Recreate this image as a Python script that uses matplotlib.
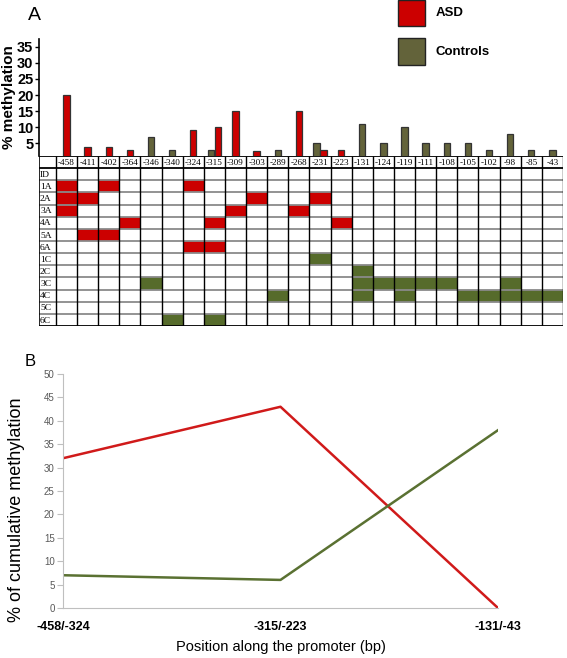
import numpy as np
import matplotlib
matplotlib.use("Agg")
import matplotlib.pyplot as plt
from matplotlib.patches import Rectangle

plt.rcParams['font.family'] = ['Liberation Sans', 'DejaVu Sans']

# CpG positions along the promoter
positions = ['-458', '-411', '-402', '-364', '-346', '-340', '-324', '-315', '-309', '-303',
             '-289', '-268', '-231', '-223', '-131', '-124', '-119', '-111', '-108', '-105',
             '-102', '-98', '-85', '-43']

# % methylation per CpG (0 = no bar)
asd_pct = [20, 4, 4, 3, 0, 0, 9, 10, 15, 2.5, 0, 15, 3, 3, 0, 0, 0, 0, 0, 0, 0, 0, 0, 0]
ctrl_pct = [0, 0, 0, 0, 7, 3, 0, 3, 0, 0, 3, 0, 5, 0, 11, 5, 10, 5, 5, 5, 3, 8, 3, 3]

# subjects and their methylated CpGs
subjects = ['1A', '2A', '3A', '4A', '5A', '6A', '1C', '2C', '3C', '4C', '5C', '6C']
methylated = {
    '1A': ['-458', '-402', '-324'],
    '2A': ['-458', '-411', '-303', '-231'],
    '3A': ['-458', '-309', '-268'],
    '4A': ['-364', '-315', '-223'],
    '5A': ['-411', '-402'],
    '6A': ['-324', '-315'],
    '1C': ['-231'],
    '2C': ['-131'],
    '3C': ['-346', '-131', '-124', '-119', '-111', '-108', '-98'],
    '4C': ['-289', '-131', '-119', '-105', '-102', '-98', '-85', '-43'],
    '5C': [],
    '6C': ['-340', '-315'],
}

# panel B: cumulative methylation by region
regions = ['-458/-324', '-315/-223', '-131/-43']
asd_cum = [32, 43, 0]
ctrl_cum = [7, 6, 38]

RED = '#cc0000'
GREEN_BAR = '#63633a'
GREEN_CELL = '#566b2b'

W, H = 567, 658
fig = plt.figure(figsize=(W / 100, H / 100), dpi=100)


def box(x0, y0, x1, y1):
    # pixel box -> figure fraction [left, bottom, width, height]
    return [x0 / W, 1 - y1 / H, (x1 - x0) / W, (y1 - y0) / H]


ncol = len(positions)
lab_w = 0.8  # row label column width in column units

# ---- panel A bars ----
axb = fig.add_axes(box(39, 39, 563, 156))
for i in range(ncol):
    a, c = asd_pct[i], ctrl_pct[i]
    if a and c:
        axb.bar(i + 0.5 - 0.16, c, 0.3, color=GREEN_BAR, edgecolor='#333333', lw=0.9)
        axb.bar(i + 0.5 + 0.16, a, 0.3, color=RED, edgecolor='#333333', lw=0.9)
    elif a:
        axb.bar(i + 0.5, a, 0.3, color=RED, edgecolor='#333333', lw=0.9)
    elif c:
        axb.bar(i + 0.5, c, 0.3, color=GREEN_BAR, edgecolor='#333333', lw=0.9)
axb.set_xlim(-lab_w, ncol)
axb.set_ylim(1.05, 37.4)
axb.set_yticks([5, 10, 15, 20, 25, 30, 35])
axb.tick_params(axis='y', labelsize=10.5, length=3, width=1, pad=1)
for t in axb.get_yticklabels():
    t.set_fontweight('bold')
axb.set_xticks([])
for s in ['top', 'right', 'bottom']:
    axb.spines[s].set_visible(False)
axb.spines['left'].set_linewidth(1.2)
axb.set_ylabel('% methylation', fontsize=11, fontweight='bold', labelpad=1)
axb.patch.set_alpha(0)

fig.text(28 / W, 1 - 15 / H, 'A', fontsize=14, va='center', ha='left')

# legend
fig.patches.append(Rectangle((398 / W, 1 - 26 / H), 27 / W, 26 / H, transform=fig.transFigure,
                             facecolor=RED, edgecolor='#222222', lw=1))
fig.patches.append(Rectangle((398 / W, 1 - 65 / H), 27 / W, 27 / H, transform=fig.transFigure,
                             facecolor=GREEN_BAR, edgecolor='#222222', lw=1))
fig.text(436 / W, 1 - 13 / H, 'ASD', fontsize=9.5, fontweight='bold', va='center')
fig.text(436 / W, 1 - 52 / H, 'Controls', fontsize=9.5, fontweight='bold', va='center')

# ---- table ----
axt = fig.add_axes(box(39, 156, 563, 326))
rows = ['', 'ID'] + subjects
nrow = len(rows)
axt.set_xlim(-lab_w, ncol)
axt.set_ylim(nrow, 0)
axt.axis('off')

for r, s in enumerate(subjects):
    for p in methylated[s]:
        j = positions.index(p)
        col = RED if s.endswith('A') else GREEN_CELL
        axt.add_patch(Rectangle((j, r + 2), 1, 1, facecolor=col, edgecolor='none'))

for r in range(nrow + 1):
    c = 'black' if r in (0, 1, nrow) else '#8a8a8a'
    axt.plot([-lab_w, ncol], [r, r], color=c, lw=1.3, solid_capstyle='butt')
for j in range(ncol + 1):
    axt.plot([j, j], [0, nrow], color='black', lw=1.0, solid_capstyle='butt')
axt.plot([-lab_w, -lab_w], [0, nrow], color='black', lw=1.2)

for j, p in enumerate(positions):
    axt.text(j + 0.5, 0.55, p, fontsize=6.6, family='Liberation Serif', ha='center', va='center')
for r, lab in enumerate(rows):
    if lab:
        axt.text(-lab_w + 0.05, r + 0.55, lab, fontsize=6.8, family='Liberation Serif',
                 ha='left', va='center')

# ---- panel B ----
axl = fig.add_axes(box(63, 374, 498, 608))
x = np.arange(len(regions))
axl.plot(x, asd_cum, color='#d01a1a', lw=1.8)
axl.plot(x, ctrl_cum, color='#5a7132', lw=1.8)
axl.set_xlim(0, 2)
axl.set_ylim(0, 50)
axl.set_yticks(np.arange(0, 51, 5))
axl.tick_params(axis='y', labelsize=7, labelcolor='#595959', color='#bfbfbf', length=4, pad=2)
axl.set_xticks(x)
axl.set_xticklabels(regions, fontsize=9, fontweight='bold')
axl.tick_params(axis='x', length=0, pad=9)
for s in ['top', 'right']:
    axl.spines[s].set_visible(False)
axl.spines['left'].set_color('#bfbfbf')
axl.spines['bottom'].set_color('#bfbfbf')
axl.set_ylabel('% of cumulative methylation', fontsize=13)
axl.yaxis.set_label_coords(-0.087, 0.42)
axl.set_xlabel('Position along the promoter (bp)', fontsize=10.5)
axl.xaxis.set_label_coords(0.5, (608 - 640) / 234)

fig.text(25 / W, 1 - 361 / H, 'B', fontsize=12, va='center', ha='left')

fig.savefig('out.png', dpi=100)
